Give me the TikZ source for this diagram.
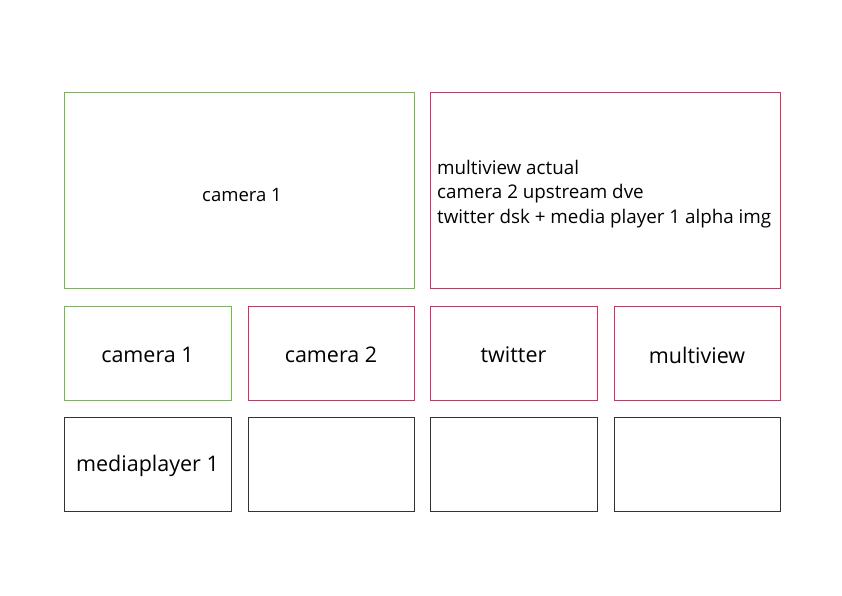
\documentclass[tikz,border=0pt]{standalone}
\usepackage{fontspec}
\setmainfont{Open Sans}
\definecolor{gr}{HTML}{6DBE45}
\definecolor{rd}{HTML}{E8265A}
\definecolor{bk}{HTML}{333333}
\begin{document}
\begin{tikzpicture}[x=1pt,y=-1pt,
  box/.style={draw,line width=0.9pt},
  lbl/.style={font=\fontsize{21.5}{25}\selectfont,inner sep=0pt}]
\useasboundingbox[fill=white] (0,0) rectangle (842,595);
\draw[box,gr] (64,92) rectangle (414,288);
\node[font=\fontsize{18.5}{22}\selectfont,inner sep=0pt] (t1) at (242,195) {camera 1};
\draw[box,rd] (430,92) rectangle (780,288);
\node[anchor=west,align=left,font=\fontsize{18.8}{24.5}\selectfont,inner sep=0pt] (t2) at (437,194) {multiview actual\\camera 2 upstream dve\\twitter dsk + media player 1 alpha img};
\draw[box,gr] (64,306) rectangle (231,400);
\draw[box,rd] (248,306) rectangle (414,400);
\draw[box,rd] (430,306) rectangle (597,400);
\draw[box,rd] (614,306) rectangle (780,400);
\node[lbl] (c1) at (147.5,355) {camera 1};
\node[lbl] (c2) at (331,355) {camera 2};
\node[lbl] (tw) at (513.5,355) {twitter};
\node[lbl] (mv) at (697,355) {multiview};
\draw[box,bk] (64,417) rectangle (231,511);
\draw[box,bk] (248,417) rectangle (414,511);
\draw[box,bk] (430,417) rectangle (597,511);
\draw[box,bk] (614,417) rectangle (780,511);
\node[lbl] (mp) at (147.5,466) {mediaplayer 1};
\end{tikzpicture}
\end{document}
